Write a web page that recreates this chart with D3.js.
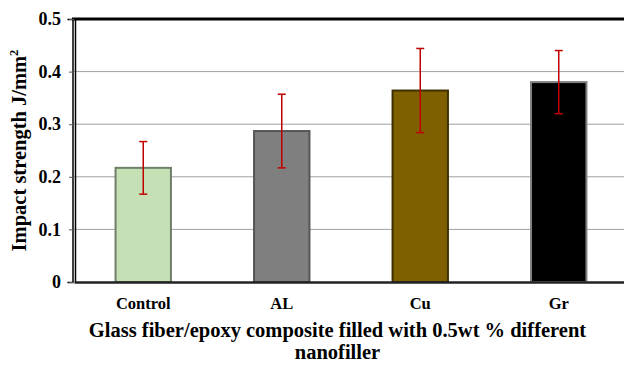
<!DOCTYPE html>
<html lang="en">
<head>
    <meta charset="UTF-8">
    <title>Impact strength</title>
    <script src="https://d3js.org/d3.v7.min.js"></script>
    <style>
        body { margin: 0; background: #fff; }
        svg text { font-family: "Liberation Serif", "Times New Roman", serif; font-weight: bold; }
    </style>
</head>
<body>
<svg width="624" height="365"></svg>
<script>
    const categories = ["Control", "AL", "Cu", "Gr"];
    const values = [0.217, 0.287, 0.364, 0.380];
    const errors = [0.050, 0.070, 0.080, 0.060];
    const fills = ["#c5e0b4", "#7f7f7f", "#7f6000", "#000000"];
    const strokes = ["#6f7f6a", "#555555", "#3f3000", "#7f7f7f"];
    const yTicks = [0, 0.1, 0.2, 0.3, 0.4, 0.5];

    const width = 624;
    const height = 365;
    const margin = {top: 19, right: -4, bottom: 83, left: 74};
    const innerWidth = width - margin.left - margin.right;
    const innerHeight = height - margin.top - margin.bottom;

    const svg = d3.select('svg')
        .attr('width', width)
        .attr('height', height);
    const g = svg.append('g')
        .attr('transform', `translate(${margin.left},${margin.top})`);

    const x = d3.scaleBand()
        .domain(categories)
        .range([0, innerWidth])
        .paddingInner(0.6)
        .paddingOuter(0.3);

    const y = d3.scaleLinear()
        .domain([0, 0.5])
        .range([innerHeight, 0]);

    // gridlines
    g.selectAll('.grid')
        .data(yTicks.filter(d => d > 0 && d < 0.5))
        .enter().append('line')
        .attr('x1', 0).attr('x2', innerWidth)
        .attr('y1', d => y(d)).attr('y2', d => y(d))
        .style('stroke', '#a0a0a0')
        .style('stroke-width', 1);

    // bars
    g.selectAll('.bar')
        .data(values)
        .enter().append('rect')
        .attr('x', (d, i) => x(categories[i]))
        .attr('y', d => y(d))
        .attr('width', x.bandwidth())
        .attr('height', d => innerHeight - y(d))
        .style('fill', (d, i) => fills[i])
        .style('stroke', (d, i) => strokes[i])
        .style('stroke-width', 2);

    // error bars
    const eb = g.selectAll('.err')
        .data(values)
        .enter().append('g')
        .attr('transform', (d, i) => `translate(${x(categories[i]) + x.bandwidth() / 2},0)`);
    eb.append('line')
        .attr('y1', (d, i) => y(d + errors[i]))
        .attr('y2', (d, i) => y(d - errors[i]))
        .style('stroke', '#c00000').style('stroke-width', 1.5);
    eb.append('line')
        .attr('x1', -4).attr('x2', 4)
        .attr('y1', (d, i) => y(d + errors[i]))
        .attr('y2', (d, i) => y(d + errors[i]))
        .style('stroke', '#c00000').style('stroke-width', 1.5);
    eb.append('line')
        .attr('x1', -4).attr('x2', 4)
        .attr('y1', (d, i) => y(d - errors[i]))
        .attr('y2', (d, i) => y(d - errors[i]))
        .style('stroke', '#c00000').style('stroke-width', 1.5);

    // top border
    g.append('line')
        .attr('x1', -2).attr('x2', innerWidth)
        .attr('y1', 0).attr('y2', 0)
        .style('stroke', '#000').style('stroke-width', 3);

    // y axis (double line like the chart frame)
    const yAxis = g.append('g')
        .call(d3.axisLeft(y).tickValues(yTicks).tickSize(5).tickPadding(8)
            .tickFormat(d => d === 0 ? '0' : d3.format('.1f')(d)));
    yAxis.attr('font-family', null);
    yAxis.select('.domain').style('stroke', '#000').style('stroke-width', 1.5)
        .attr('transform', 'translate(-1.5,0)');
    yAxis.selectAll('.tick line').style('stroke', '#555');
    yAxis.selectAll('.tick text')
        .style('font-size', '18px').style('fill', '#000');
    g.append('line')
        .attr('x1', 1.5).attr('x2', 1.5)
        .attr('y1', 0).attr('y2', innerHeight)
        .style('stroke', '#000').style('stroke-width', 1.5);

    // x axis
    const xAxis = g.append('g')
        .attr('transform', `translate(0,${innerHeight})`)
        .call(d3.axisBottom(x).tickSize(0).tickPadding(15));
    xAxis.attr('font-family', null);
    xAxis.select('.domain').style('stroke', '#222').style('stroke-width', 2.5);
    xAxis.selectAll('.tick text')
        .style('font-size', '16.5px').style('fill', '#000');

    // axis titles
    const yt = svg.append('text')
        .attr('transform', `translate(26,${margin.top + innerHeight / 2}) rotate(-90)`)
        .attr('text-anchor', 'middle')
        .style('font-size', '20.5px');
    yt.append('tspan').text('Impact strength J/mm');
    yt.append('tspan').attr('dy', -8).style('font-size', '12.5px').text('2');

    svg.append('text')
        .attr('x', 337.5).attr('y', 337)
        .attr('text-anchor', 'middle')
        .style('font-size', '20.5px')
        .text('Glass fiber/epoxy composite filled with 0.5wt % different');
    svg.append('text')
        .attr('x', 337.5).attr('y', 359)
        .attr('text-anchor', 'middle')
        .style('font-size', '20.5px')
        .text('nanofiller');
</script>
</body>
</html>
